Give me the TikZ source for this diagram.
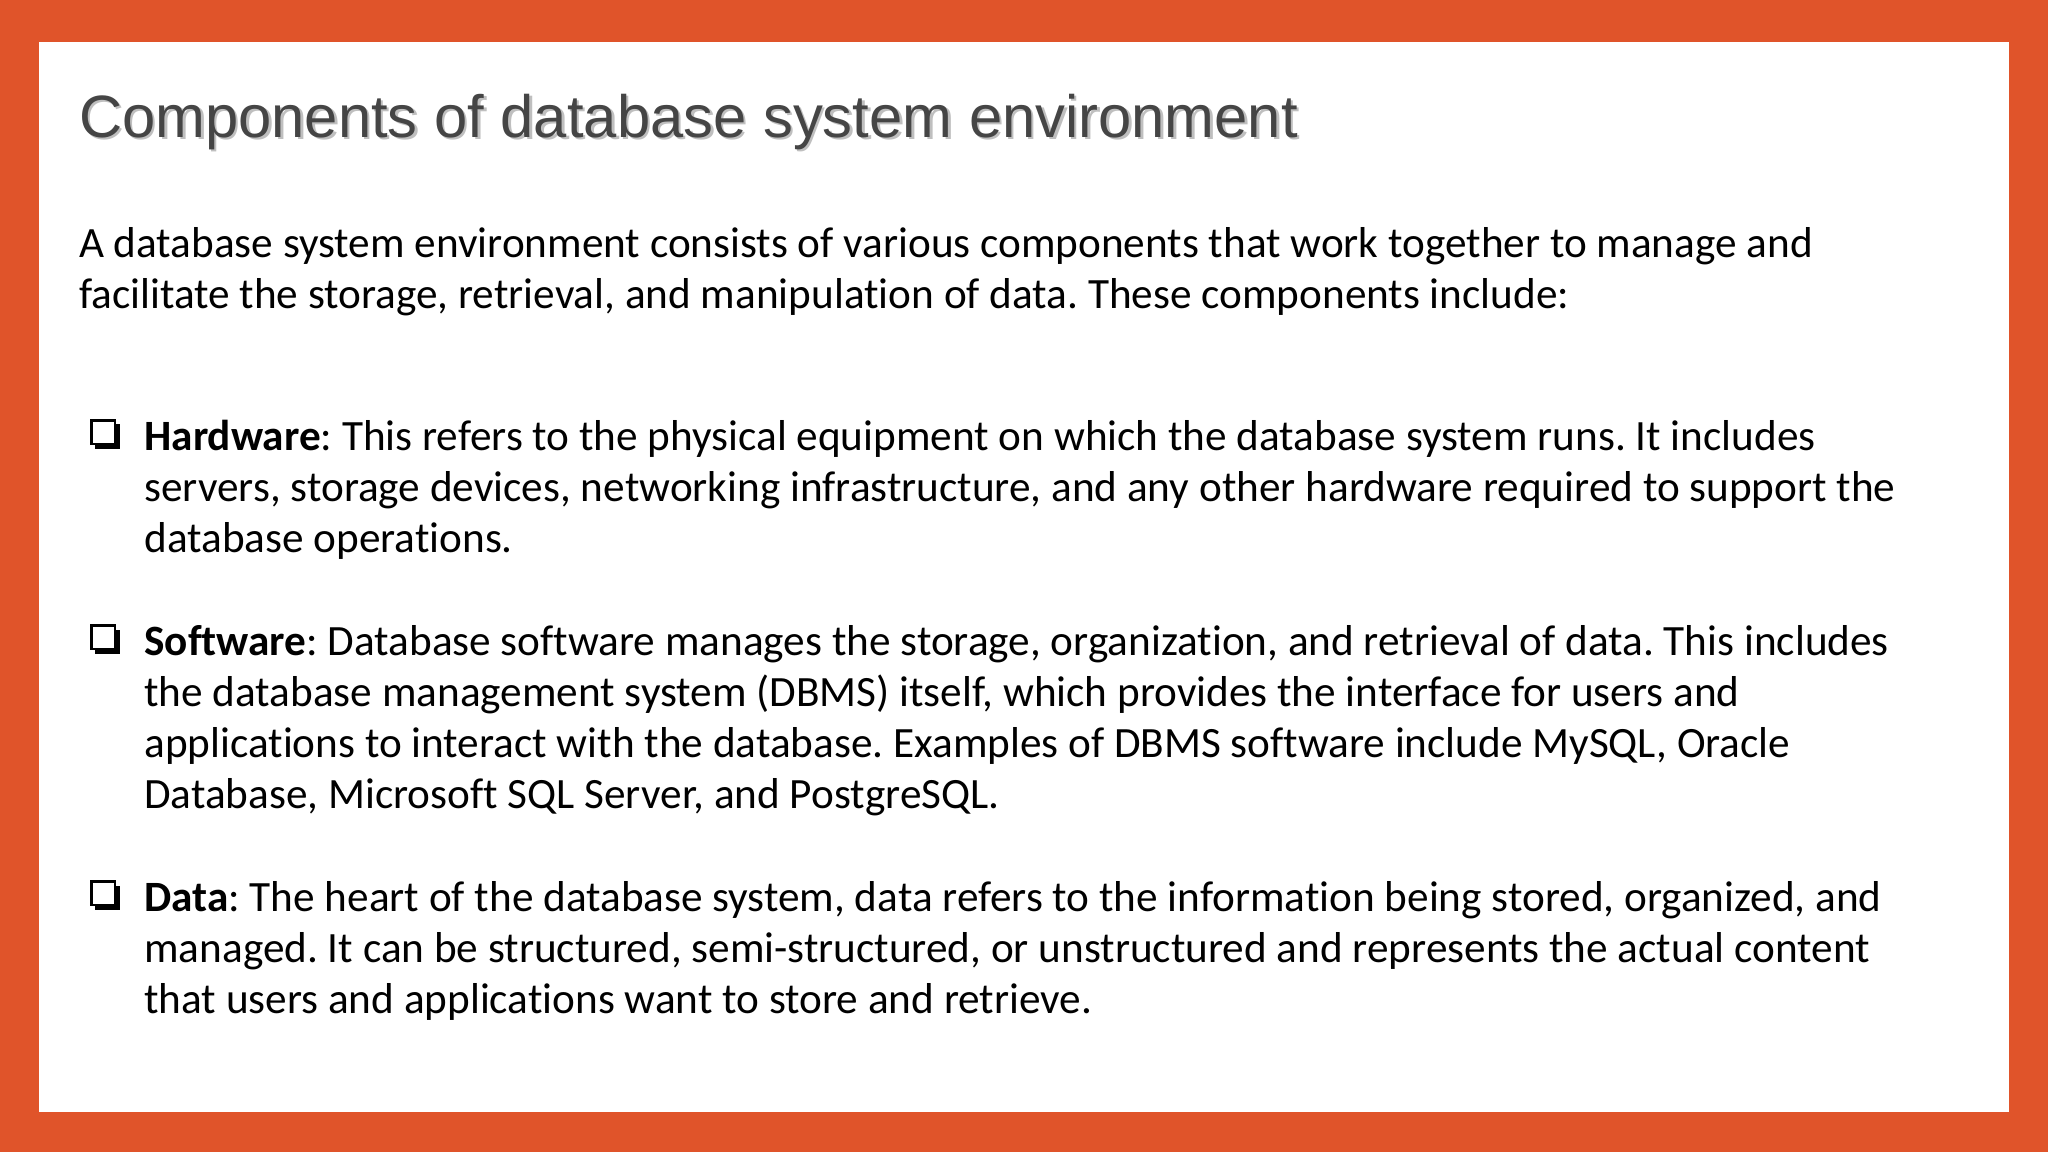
\documentclass[tikz,border=0pt]{standalone}
\usepackage{fontspec}
\setmainfont{Carlito}[Ligatures={NoCommon}]
\newfontfamily\titlefont{Liberation Sans}
\definecolor{frame}{HTML}{E0542A}
\definecolor{titlegray}{HTML}{454545}
\frenchspacing
\begin{document}
\begin{tikzpicture}[x=0.013061cm,y=-0.013061cm,
  body/.style={anchor=base west,inner sep=0,font=\fontsize{12.3pt}{14pt}\selectfont,text=black},
  ttl/.style={anchor=base west,inner sep=0,font=\titlefont\fontsize{17pt}{22pt}\selectfont}]
\fill[frame] (0,0) rectangle (1568,882);
\fill[white] (30,32) rectangle (1538,851);
\useasboundingbox (0,0) rectangle (1568,882);
\node[ttl,text=black!25] (ts) at (62,107) {Components of database system environment};
\node[ttl,text=titlegray] (t) at (60,105) {Components of database system environment};
\node[body] (i1) at (60,197) {A database system environment consists of various components that work together to manage and};
\node[body] (i2) at (60,236) {facilitate the storage, retrieval, and manipulation of data. These components include:};
\foreach \y/\n in {334/b1,491/b2,687/b3}{
  \fill[black] (73,\y-9) rectangle (92,\y+10);
  \fill[white] (70,\y-12) rectangle (88,\y+6);
  \draw[black,line width=0.7pt] (70,\y-12) rectangle (88,\y+6);
  \coordinate (\n) at (70,\y);
}
\node[body] (h1) at (110,345) {\textbf{Hardware}: This refers to the physical equipment on which the database system runs. It includes};
\node[body] (h2) at (110,384) {servers, storage devices, networking infrastructure, and any other hardware required to support the};
\node[body] (h3) at (110,423) {database operations.};
\node[body] (s1) at (110,502) {\textbf{Software}: Database software manages the storage, organization, and retrieval of data. This includes};
\node[body] (s2) at (110,541) {the database management system (DBMS) itself, which provides the interface for users and};
\node[body] (s3) at (110,580) {applications to interact with the database. Examples of DBMS software include MySQL, Oracle};
\node[body] (s4) at (110,619) {Database, Microsoft SQL Server, and PostgreSQL.};
\node[body] (d1) at (110,698) {\textbf{Data}: The heart of the database system, data refers to the information being stored, organized, and};
\node[body] (d2) at (110,737) {managed. It can be structured, semi-structured, or unstructured and represents the actual content};
\node[body] (d3) at (110,776) {that users and applications want to store and retrieve.};
\end{tikzpicture}
\end{document}
